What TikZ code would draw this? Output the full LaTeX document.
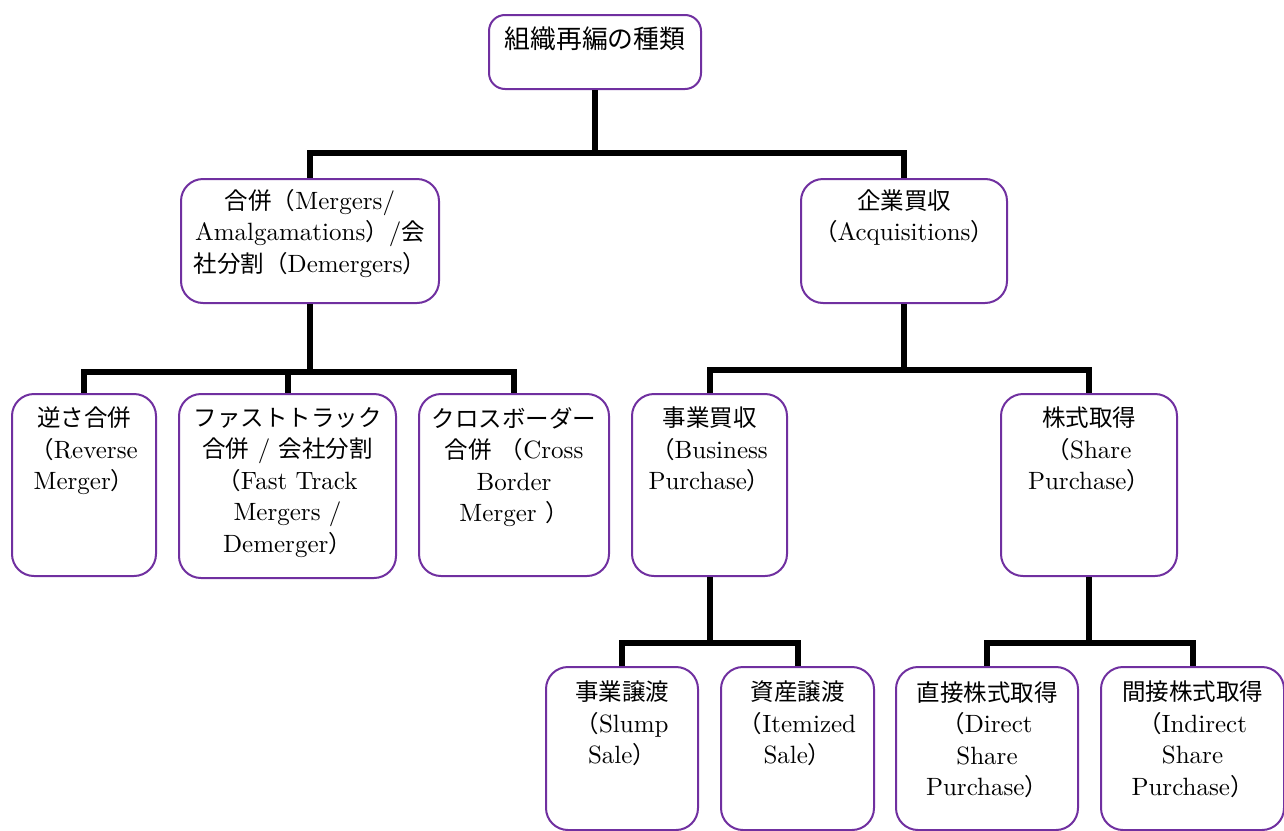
\documentclass[tikz,border=0pt]{standalone}
\usepackage{fontspec}
\setmainfont{lmroman10-regular}[Extension=.otf]
\newfontfamily\jp[Scale=0.94]{Noto Sans CJK JP}
\newcommand\J[1]{{\jp #1}}
\definecolor{boxpurple}{HTML}{7030A0}
\tikzset{
  box/.style={draw=boxpurple, line width=2pt, rounded corners=22pt, fill=white, anchor=north west, inner sep=0pt},
  txt/.style={anchor=north, align=center, inner sep=0pt, font=\fontsize{25}{31.5}\selectfont},
  conn/.style={line width=6pt, black}
}
\begin{document}
\begin{tikzpicture}[x=1pt,y=-1pt]
\useasboundingbox (0,0) rectangle (1284,830);
% boxes
\node[box, rounded corners=16pt, minimum width=212pt, minimum height=74pt] (root) at (488,14) {};
\node[box, minimum width=258pt, minimum height=124pt] (merger) at (180,178) {};
\node[box, minimum width=206pt, minimum height=124pt] (acq) at (800,178) {};
\node[box, minimum width=144pt, minimum height=182pt] (reverse) at (11,393) {};
\node[box, minimum width=217pt, minimum height=184pt] (fast) at (178,393) {};
\node[box, minimum width=190pt, minimum height=182pt] (cross) at (418,393) {};
\node[box, minimum width=155pt, minimum height=182pt] (business) at (631,393) {};
\node[box, minimum width=176pt, minimum height=182pt] (share) at (1000,393) {};
\node[box, minimum width=152pt, minimum height=163pt] (slump) at (545,666) {};
\node[box, minimum width=153pt, minimum height=163pt] (itemized) at (720,666) {};
\node[box, minimum width=182pt, minimum height=163pt] (direct) at (895,666) {};
\node[box, minimum width=183pt, minimum height=163pt] (indirect) at (1100,666) {};
% texts
\node[txt, font=\fontsize{27.5}{31.5}\selectfont] (root-t) at ([yshift=-13pt]root.north) {\J{組織再編の種類}};
\node[txt] (merger-t) at ([yshift=-11pt]merger.north) {\J{合併（}Mergers/\\Amalgamations\J{）}/\J{会}\\\J{社分割（}Demergers\J{）}};
\node[txt] (acq-t) at ([yshift=-11pt]acq.north) {\J{企業買収}\\\J{（}Acquisitions\J{）}};
\node[txt] (reverse-t) at ([yshift=-14pt]reverse.north) {\J{逆さ合併}\\\J{（}Reverse\\Merger\J{）}};
\node[txt] (fast-t) at ([yshift=-14pt]fast.north) {\J{ファストトラック}\\\J{合併} / \J{会社分割}\\\J{（}Fast Track\\Mergers /\\Demerger\J{）}};
\node[txt] (cross-t) at ([yshift=-14pt]cross.north) {\J{クロスボーダー}\\\J{合併} \J{（}Cross\\Border\\Merger \J{）}};
\node[txt] (business-t) at ([yshift=-14pt]business.north) {\J{事業買収}\\\J{（}Business\\Purchase\J{）}};
\node[txt] (share-t) at ([yshift=-14pt]share.north) {\J{株式取得}\\\J{（}Share\\Purchase\J{）}};
\node[txt] (slump-t) at ([yshift=-15pt]slump.north) {\J{事業譲渡}\\\J{（}Slump\\Sale\J{）}};
\node[txt] (itemized-t) at ([yshift=-15pt]itemized.north) {\J{資産譲渡}\\\J{（}Itemized\\Sale\J{）}};
\node[txt] (direct-t) at ([yshift=-15pt]direct.north) {\J{直接株式取得}\\\J{（}Direct\\Share\\Purchase\J{）}};
\node[txt] (indirect-t) at ([yshift=-15pt]indirect.north) {\J{間接株式取得}\\\J{（}Indirect\\Share\\Purchase\J{）}};
% connectors
\draw[conn] (root.south) -- (root.south |- 0,153) -| (merger.north);
\draw[conn] (root.south |- 0,153) -| (acq.north);
\draw[conn] (merger.south) -- (merger.south |- 0,372) -| (reverse.north);
\draw[conn] (merger.south |- 0,372) -| (fast.north);
\draw[conn] (merger.south |- 0,372) -| (cross.north);
\draw[conn] (acq.south) -- (acq.south |- 0,370) -| (business.north);
\draw[conn] (acq.south |- 0,370) -| (share.north);
\draw[conn] (business.south) -- (business.south |- 0,643) -| (slump.north);
\draw[conn] (business.south |- 0,643) -| (itemized.north);
\draw[conn] (share.south) -- (share.south |- 0,643) -| (direct.north);
\draw[conn] (share.south |- 0,643) -| (indirect.north);
\end{tikzpicture}
\end{document}
